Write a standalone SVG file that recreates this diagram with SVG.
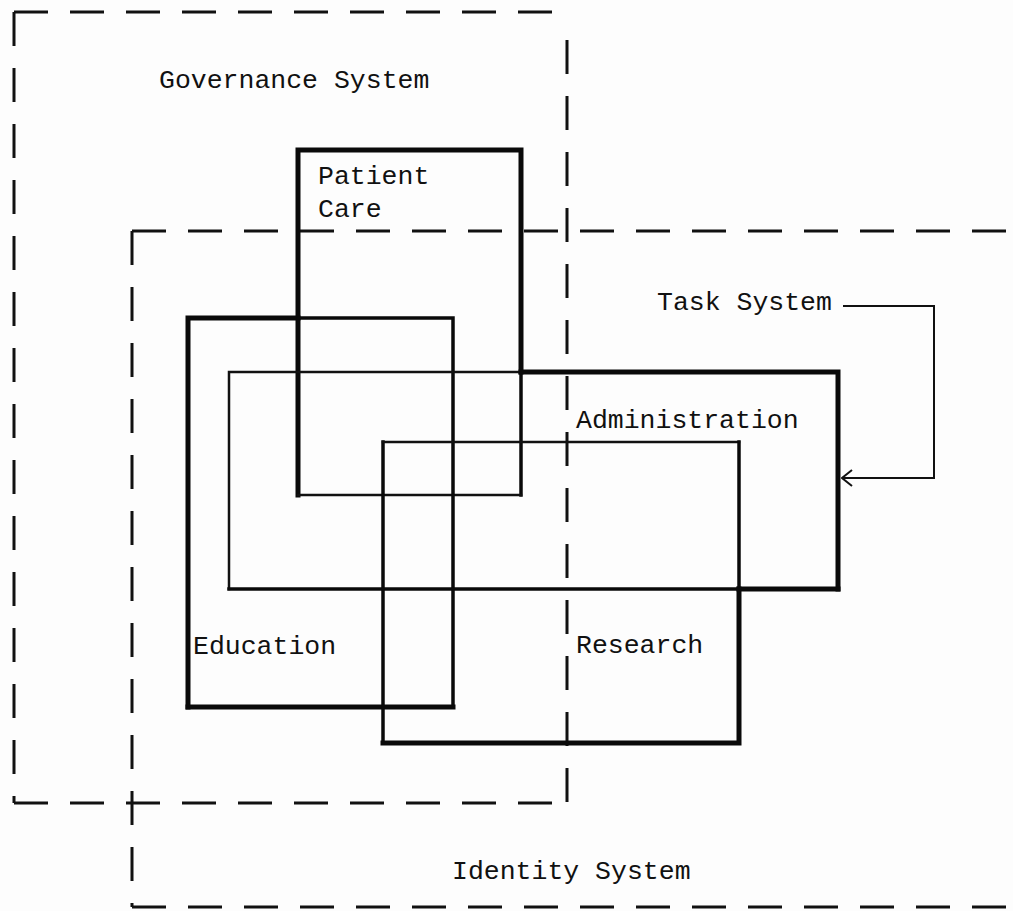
<svg xmlns="http://www.w3.org/2000/svg" width="1013" height="911" viewBox="0 0 1013 911">
<style>
.bg{fill:#fdfdfd}
.dash{fill:none;stroke:#111;stroke-width:3;stroke-dasharray:34 22}
.thick{fill:none;stroke:#0a0a0a;stroke-width:5;stroke-linecap:square}
.mid{fill:none;stroke:#0a0a0a;stroke-width:3.5;stroke-linecap:square}
.thin{fill:none;stroke:#111;stroke-width:2.5;stroke-linecap:square}
.conn{fill:none;stroke:#111;stroke-width:2}
text{font-family:"Liberation Mono","Courier New",monospace;font-size:26.5px;fill:#111}
</style>
<defs>
<marker id="arr" viewBox="0 0 12 20" refX="11" refY="10" markerWidth="12" markerHeight="20" markerUnits="userSpaceOnUse" orient="auto">
<path d="M1 2 L11 10 L1 18" fill="none" stroke="#111" stroke-width="2"/>
</marker>
</defs>
<rect class="bg" x="0" y="0" width="1013" height="911"/>

<g id="governance-system">
<path class="dash" d="M14 12 H567"/>
<path class="dash" d="M14 12 V803"/>
<path class="dash" d="M567 40 V803"/>
<path class="dash" d="M14 803 H567"/>
<text x="159" y="88">Governance System</text>
</g>

<g id="identity-system">
<path class="dash" d="M132 231 H1013"/>
<path class="dash" d="M132 231 V907"/>
<path class="dash" d="M132 907 H1013"/>
<text x="452" y="879">Identity System</text>
</g>

<g id="patient-care">
<path class="thick" d="M298 495 V150 H521 V372"/>
<path class="mid" d="M521 372 V495"/>
<path class="thin" d="M298 495 H521"/>
<text x="318" y="184">Patient</text>
<text x="318" y="217">Care</text>
</g>

<g id="education">
<path class="thick" d="M188 707 V318 H298"/>
<path class="mid" d="M298 318 H453 V707"/>
<path class="thick" d="M188 707 H453"/>
<text x="193" y="654">Education</text>
</g>

<g id="administration">
<path class="thin" d="M229 589 V372 H521"/>
<path class="thick" d="M521 372 H838 V589"/>
<path class="mid" d="M229 589 H739"/>
<path class="thick" d="M739 589 H838"/>
<text x="576" y="428">Administration</text>
</g>

<g id="research">
<path class="mid" d="M383 743 V442"/>
<path class="thin" d="M383 442 H739"/>
<path class="mid" d="M739 442 V589"/>
<path class="thick" d="M739 589 V743 H383"/>
<text x="576" y="653">Research</text>
</g>

<g id="task-system">
<text x="657" y="310">Task System</text>
</g>

<g id="connectors">
<path class="conn" d="M843 306 H934 V478 H842" marker-end="url(#arr)"/>
</g>
</svg>
